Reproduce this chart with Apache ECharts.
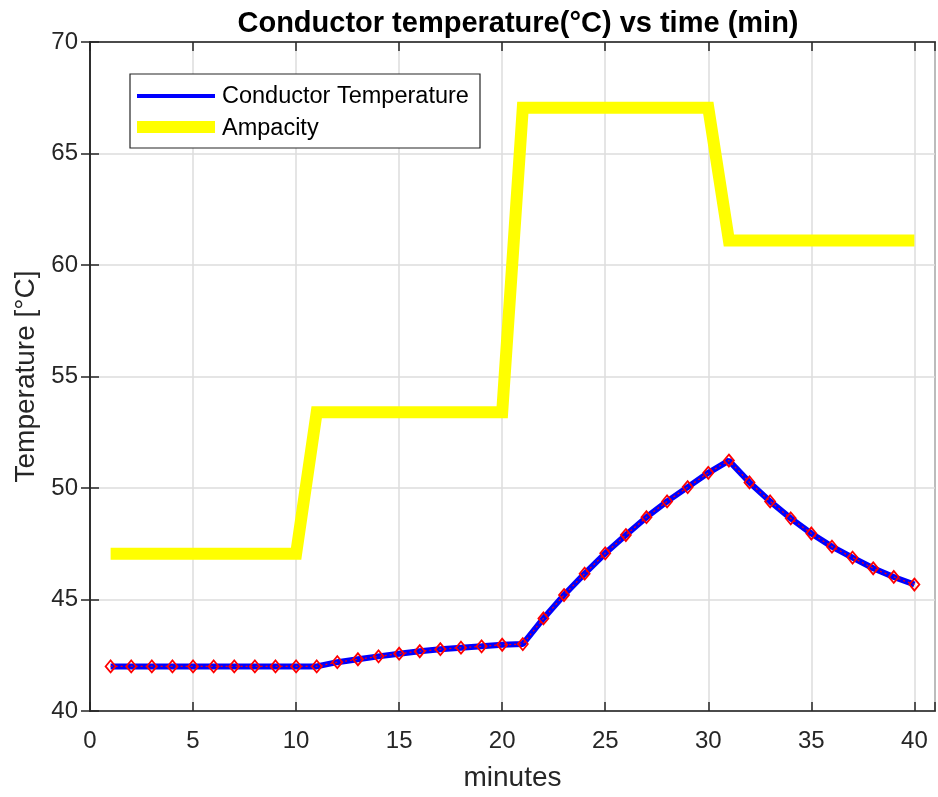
<!DOCTYPE html>
<html><head><meta charset="utf-8">
<script src="https://cdn.jsdelivr.net/npm/echarts@6/dist/echarts.min.js"></script>
<style>html,body{margin:0;padding:0;background:#fff}#c{width:938px;height:797px}</style>
</head><body><div id="c"></div>
<script>
var minutes = [];
for (var i = 1; i <= 40; i++) minutes.push(i);
var conductorTemp = [42.0,42.0,42.0,42.0,42.0,42.0,42.0,42.0,42.0,42.0,
  42.0,42.19,42.32,42.45,42.57,42.68,42.77,42.84,42.9,42.97,
  43.0,44.15,45.2,46.16,47.07,47.89,48.69,49.4,50.04,50.68,
  51.23,50.25,49.4,48.64,47.96,47.37,46.88,46.4,46.01,45.67];
var ampacity = [47.05,47.05,47.05,47.05,47.05,47.05,47.05,47.05,47.05,47.05,
  53.4,53.4,53.4,53.4,53.4,53.4,53.4,53.4,53.4,53.4,
  67.05,67.05,67.05,67.05,67.05,67.05,67.05,67.05,67.05,67.05,
  61.1,61.1,61.1,61.1,61.1,61.1,61.1,61.1,61.1,61.1];
var xTicks = [0,5,10,15,20,25,30,35,40];
var yTicks = [40,45,50,55,60,65,70];

function pairs(ys){ return minutes.map(function(x,i){return [x, ys[i]];}); }
var font = 'Liberation Sans, Arial, Helvetica, sans-serif';
var chart = echarts.init(document.getElementById('c'));
var xBase = {type:'value', min:0, max:41, interval:5,
  axisLine:{show:true, lineStyle:{color:'#262626', width:1.5}},
  axisTick:{show:true, inside:true, length:9, lineStyle:{color:'#262626', width:1.5}},
  splitLine:{show:false}};
var yBase = {type:'value', min:40, max:70, interval:5,
  axisLine:{show:true, lineStyle:{color:'#262626', width:1.5}},
  axisTick:{show:true, inside:true, length:9, lineStyle:{color:'#262626', width:1.5}},
  splitLine:{show:false}};
chart.setOption({
  animation:false,
  backgroundColor:'#fff',
  title:{text:'Conductor temperature(°C) vs time (min)', left:513, top:4, textAlign:'center',
    textStyle:{fontFamily:font, fontWeight:'bold', fontSize:29, color:'#000'}},
  grid:{left:90, top:42, right:-1, bottom:83, show:true, borderColor:'#262626', borderWidth:1.5},
  xAxis:[
    Object.assign({}, xBase, {position:'bottom', name:'minutes', nameLocation:'middle', nameGap:53,
      nameTextStyle:{fontFamily:font, fontSize:28, color:'#262626'},
      axisLabel:{show:true, margin:18, fontFamily:font, fontSize:24, color:'#262626',
        formatter:function(v){ return xTicks.indexOf(v) >= 0 ? String(v) : ''; }},
      splitLine:{show:true, lineStyle:{color:'#dcdcdc', width:1.5}}}),
    Object.assign({}, xBase, {position:'top', axisLabel:{show:false}})
  ],
  yAxis:[
    Object.assign({}, yBase, {position:'left', name:'Temperature [°C]', nameLocation:'middle', nameGap:49,
      nameTextStyle:{fontFamily:font, fontSize:28, color:'#262626'},
      axisLabel:{show:true, margin:12, fontFamily:font, fontSize:24, color:'#262626',
        formatter:function(v){ return yTicks.indexOf(v) >= 0 ? String(v) : ''; }},
      splitLine:{show:true, lineStyle:{color:'#dcdcdc', width:1.5}}}),
    Object.assign({}, yBase, {position:'right', axisLabel:{show:false}})
  ],
  series:[
    {name:'Ampacity', type:'line', data:pairs(ampacity), showSymbol:false, symbol:'none',
      lineStyle:{color:'#ffff00', width:12, join:'miter'}, z:2},
    {name:'Conductor Temperature', type:'line', data:pairs(conductorTemp), symbol:'none',
      lineStyle:{color:'#0000ff', width:6}, z:3},
    {name:'marks', type:'line', data:pairs(conductorTemp), symbol:'diamond', symbolSize:[10,12],
      showAllSymbol:true,
      lineStyle:{color:'#ff0000', width:1.2, type:[2,3]},
      itemStyle:{color:'rgba(0,0,0,0)', borderColor:'#ff0000', borderWidth:1.8}, z:4}
  ],
  graphic:[
    {type:'rect', shape:{x:130, y:74, width:350, height:74}, style:{fill:'#fff', stroke:'#262626', lineWidth:1.2}, z:10},
    {type:'line', shape:{x1:137, y1:96, x2:215, y2:96}, style:{stroke:'#0000ff', lineWidth:4}, z:11},
    {type:'line', shape:{x1:137, y1:127, x2:215, y2:127}, style:{stroke:'#ffff00', lineWidth:12}, z:11},
    {type:'text', x:222, y:97, style:{text:'Conductor Temperature', fontFamily:font, fontSize:23.5, fill:'#000', verticalAlign:'middle'}, z:11},
    {type:'text', x:222, y:129, style:{text:'Ampacity', fontFamily:font, fontSize:23.5, fill:'#000', verticalAlign:'middle'}, z:11}
  ]
});
</script></body></html>
